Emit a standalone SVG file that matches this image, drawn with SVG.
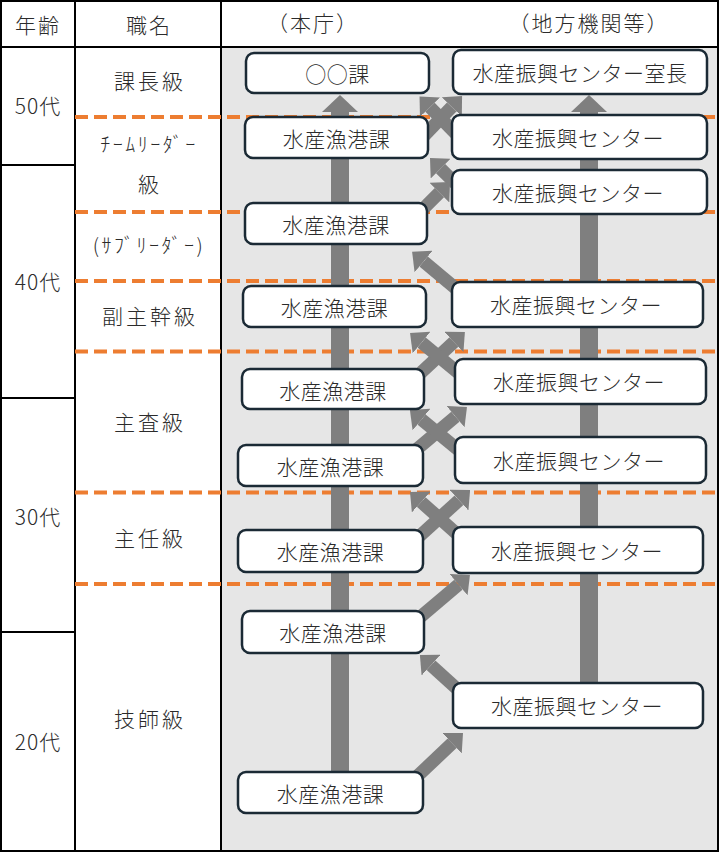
<svg xmlns="http://www.w3.org/2000/svg" width="721" height="855" viewBox="0 0 721 855">
<defs>
<style>
text{font-family:"Noto Sans CJK JP","Noto Sans",sans-serif;font-weight:300;fill:#2b2b2b;text-anchor:middle;dominant-baseline:central}
.hd{font-size:21px;letter-spacing:2px}
.lb{font-size:21px;letter-spacing:3px}
.age{font-size:21px;letter-spacing:1px}
.hk{font-size:20px;letter-spacing:2.5px}
.bx{font-size:21px;letter-spacing:0.5px}
.box{fill:#ffffff;stroke:#1b2a35;stroke-width:2.5}
.grid{stroke:#000;stroke-width:2;fill:none}
.dash{stroke:#ed7d31;stroke-width:4;stroke-dasharray:13 6;fill:none}
.av{stroke:#7f7f7f;stroke-width:18;fill:none}
.ad{stroke:#7f7f7f;stroke-width:13;fill:none}
</style>
<marker id="hv" markerUnits="userSpaceOnUse" viewBox="0 -18 17 36" markerWidth="17" markerHeight="36" refX="0" refY="0" orient="auto"><path d="M0,-18 L17,0 L0,18 Z" fill="#7f7f7f"/></marker>
<marker id="hdm" markerUnits="userSpaceOnUse" viewBox="0 -14 15 28" markerWidth="15" markerHeight="28" refX="0" refY="0" orient="auto"><path d="M0,-14 L15,0 L0,14 Z" fill="#7f7f7f"/></marker>
</defs>
<rect x="0" y="0" width="721" height="855" fill="#ffffff"/>
<g id="table">
<rect x="222" y="48" width="495" height="802" fill="#e6e6e6"/>
<rect class="grid" x="1" y="1" width="717" height="850"/>
<line class="grid" x1="0" y1="47" x2="718" y2="47"/>
<line class="grid" x1="75" y1="0" x2="75" y2="851"/>
<line class="grid" x1="221" y1="0" x2="221" y2="851"/>
<line class="grid" x1="0" y1="165" x2="75" y2="165"/>
<line class="grid" x1="0" y1="398" x2="75" y2="398"/>
<line class="grid" x1="0" y1="632" x2="75" y2="632"/>
<text class="hd" x="38" y="24">年齢</text>
<text class="hd" x="149" y="24">職名</text>
<text class="hd" x="313" y="22">（本庁）</text>
<text class="hd" x="589" y="22">（地方機関等）</text>
<text class="age" x="38" y="105">50代</text>
<text class="age" x="38" y="281">40代</text>
<text class="age" x="38" y="516">30代</text>
<text class="age" x="38" y="741">20代</text>
<text class="lb" x="150" y="80">課長級</text>
<text class="hk" x="149" y="143">ﾁｰﾑﾘｰﾀﾞｰ</text>
<text class="lb" x="150" y="183">級</text>
<text class="hk" x="149" y="244">(ｻﾌﾞﾘｰﾀﾞｰ)</text>
<text class="lb" x="150" y="315">副主幹級</text>
<text class="lb" x="150" y="421">主査級</text>
<text class="lb" x="150" y="537">主任級</text>
<text class="lb" x="150" y="718">技師級</text>
</g>
<g id="dividers">
<line class="dash" x1="75" y1="117" x2="718" y2="117"/>
<line class="dash" x1="75" y1="212" x2="718" y2="212"/>
<line class="dash" x1="75" y1="281" x2="718" y2="281"/>
<line class="dash" x1="75" y1="351.5" x2="718" y2="351.5"/>
<line class="dash" x1="75" y1="492.5" x2="718" y2="492.5"/>
<line class="dash" x1="75" y1="584" x2="718" y2="584"/>
</g>
<g id="connectors">
<line class="av" x1="340" y1="775" x2="340" y2="112" marker-end="url(#hv)"/>
<line class="av" x1="589" y1="686" x2="589" y2="112" marker-end="url(#hv)"/>
<line class="ad" x1="420" y1="140" x2="451.7" y2="106.9" marker-end="url(#hdm)"/>
<line class="ad" x1="462" y1="140" x2="430" y2="107.2" marker-end="url(#hdm)"/>
<line class="ad" x1="465" y1="193" x2="440.6" y2="168.6" marker-end="url(#hdm)"/>
<line class="ad" x1="414" y1="218" x2="439.4" y2="192.6" marker-end="url(#hdm)"/>
<line class="ad" x1="466" y1="297" x2="423.6" y2="261.5" marker-end="url(#hdm)"/>
<line class="ad" x1="412" y1="381" x2="453.9" y2="342.1" marker-end="url(#hdm)"/>
<line class="ad" x1="467" y1="380" x2="421.6" y2="342.5" marker-end="url(#hdm)"/>
<line class="ad" x1="410" y1="455" x2="455.5" y2="416.6" marker-end="url(#hdm)"/>
<line class="ad" x1="467" y1="457" x2="421.5" y2="419.6" marker-end="url(#hdm)"/>
<line class="ad" x1="412" y1="543" x2="459" y2="500.2" marker-end="url(#hdm)"/>
<line class="ad" x1="466" y1="542" x2="421.2" y2="502" marker-end="url(#hdm)"/>
<line class="ad" x1="412" y1="624" x2="458.5" y2="584.6" marker-end="url(#hdm)"/>
<line class="ad" x1="466" y1="697" x2="431" y2="665.2" marker-end="url(#hdm)"/>
<line class="ad" x1="408" y1="785" x2="452.1" y2="743.3" marker-end="url(#hdm)"/>
</g>
<g id="L1"><rect class="box" x="246" y="53" width="183" height="40" rx="8"/><text class="bx" x="337.5" y="73">○○課</text></g>
<g id="L2"><rect class="box" x="245" y="117" width="183" height="41" rx="8"/><text class="bx" x="336.5" y="138">水産漁港課</text></g>
<g id="L3"><rect class="box" x="245" y="203" width="182" height="41" rx="8"/><text class="bx" x="336" y="224">水産漁港課</text></g>
<g id="L4"><rect class="box" x="243" y="286" width="183" height="41" rx="8"/><text class="bx" x="334.5" y="307">水産漁港課</text></g>
<g id="L5"><rect class="box" x="242" y="369" width="182" height="40" rx="8"/><text class="bx" x="333" y="390">水産漁港課</text></g>
<g id="L6"><rect class="box" x="238" y="445" width="185" height="41" rx="8"/><text class="bx" x="330.5" y="466">水産漁港課</text></g>
<g id="L7"><rect class="box" x="238" y="530" width="185" height="42" rx="8"/><text class="bx" x="330.5" y="551">水産漁港課</text></g>
<g id="L8"><rect class="box" x="242" y="611" width="182" height="42" rx="8"/><text class="bx" x="333" y="632">水産漁港課</text></g>
<g id="L9"><rect class="box" x="238" y="772" width="185" height="41" rx="8"/><text class="bx" x="330.5" y="793">水産漁港課</text></g>
<g id="R1"><rect class="box" x="453" y="50" width="254" height="44" rx="8"/><text class="bx" x="580" y="72">水産振興センター室長</text></g>
<g id="R2"><rect class="box" x="452" y="115" width="255" height="44" rx="8"/><text class="bx" x="578" y="137">水産振興センター</text></g>
<g id="R3"><rect class="box" x="452" y="170" width="255" height="44" rx="8"/><text class="bx" x="578" y="192">水産振興センター</text></g>
<g id="R4"><rect class="box" x="452" y="282" width="251" height="45" rx="8"/><text class="bx" x="576" y="304">水産振興センター</text></g>
<g id="R5"><rect class="box" x="455" y="359" width="251" height="45" rx="8"/><text class="bx" x="579" y="381">水産振興センター</text></g>
<g id="R6"><rect class="box" x="455" y="437" width="251" height="46" rx="8"/><text class="bx" x="579" y="460">水産振興センター</text></g>
<g id="R7"><rect class="box" x="453" y="527" width="250" height="46" rx="8"/><text class="bx" x="577" y="550">水産振興センター</text></g>
<g id="R8"><rect class="box" x="453" y="683" width="250" height="45" rx="8"/><text class="bx" x="577" y="705">水産振興センター</text></g>
</svg>
